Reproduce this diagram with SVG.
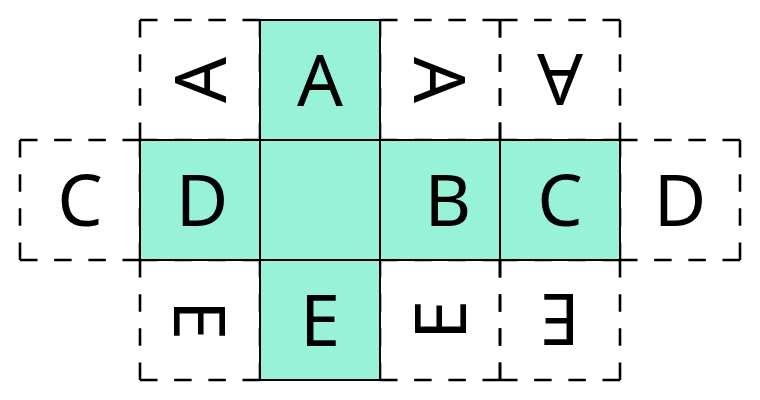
<svg xmlns="http://www.w3.org/2000/svg" width="760" height="400" viewBox="0 0 760 400">
<style>
.fill{fill:#98f2d8;stroke:#000;stroke-width:2}
.dash{fill:none;stroke:#000;stroke-width:2.6;stroke-dasharray:17.5 16.67}
.t{font-family:"Noto Sans","Liberation Sans",sans-serif;font-size:72px;text-anchor:middle;fill:#000}
</style>
<rect width="760" height="400" fill="#fff"/>
<g id="connectors"/>
<g id="dashed-cells">
<path id="cell-a-left" class="dash" d="M140 20h120M260 20v120M140 140h120M140 20v120"/>
<path id="cell-a-right" class="dash" d="M380 20h120M500 20v120M380 140h120M380 20v120"/>
<path id="cell-a-flip" class="dash" d="M500 20h120M620 20v120M500 140h120M500 20v120"/>
<path id="cell-c-left" class="dash" d="M20 140h120M140 140v120M20 260h120M20 140v120"/>
<path id="cell-d-right" class="dash" d="M620 140h120M740 140v120M620 260h120M620 140v120"/>
<path id="cell-e-left" class="dash" d="M140 260h120M260 260v120M140 380h120M140 260v120"/>
<path id="cell-e-right" class="dash" d="M380 260h120M500 260v120M380 380h120M380 260v120"/>
<path id="cell-e-flip" class="dash" d="M500 260h120M620 260v120M500 380h120M500 260v120"/>
</g>
<g id="cube-faces">
<rect id="face-a" class="fill" x="260" y="20" width="120" height="120"/>
<rect id="face-d" class="fill" x="140" y="140" width="120" height="120"/>
<rect id="face-center" class="fill" x="260" y="140" width="120" height="120"/>
<rect id="face-b" class="fill" x="380" y="140" width="120" height="120"/>
<rect id="face-c" class="fill" x="500" y="140" width="120" height="120"/>
<rect id="face-e" class="fill" x="260" y="260" width="120" height="120"/>
</g>
<g id="labels">
<text class="t" x="320" y="106">A</text>
<text class="t" x="200" y="106" transform="rotate(-90 200 80)">A</text>
<text class="t" x="440" y="106" transform="rotate(90 440 80)">A</text>
<text class="t" x="560" y="106" transform="rotate(180 560 80)">A</text>
<text class="t" x="80" y="226">C</text>
<text class="t" x="202" y="226">D</text>
<text class="t" x="448" y="226">B</text>
<text class="t" x="560" y="226">C</text>
<text class="t" x="680" y="226">D</text>
<text class="t" x="320" y="346">E</text>
<text class="t" x="200" y="346" transform="rotate(90 200 320)">E</text>
<text class="t" x="440" y="346" transform="rotate(-90 440 320)">E</text>
<text class="t" x="560" y="346" transform="rotate(180 560 320)">E</text>
</g>
</svg>
